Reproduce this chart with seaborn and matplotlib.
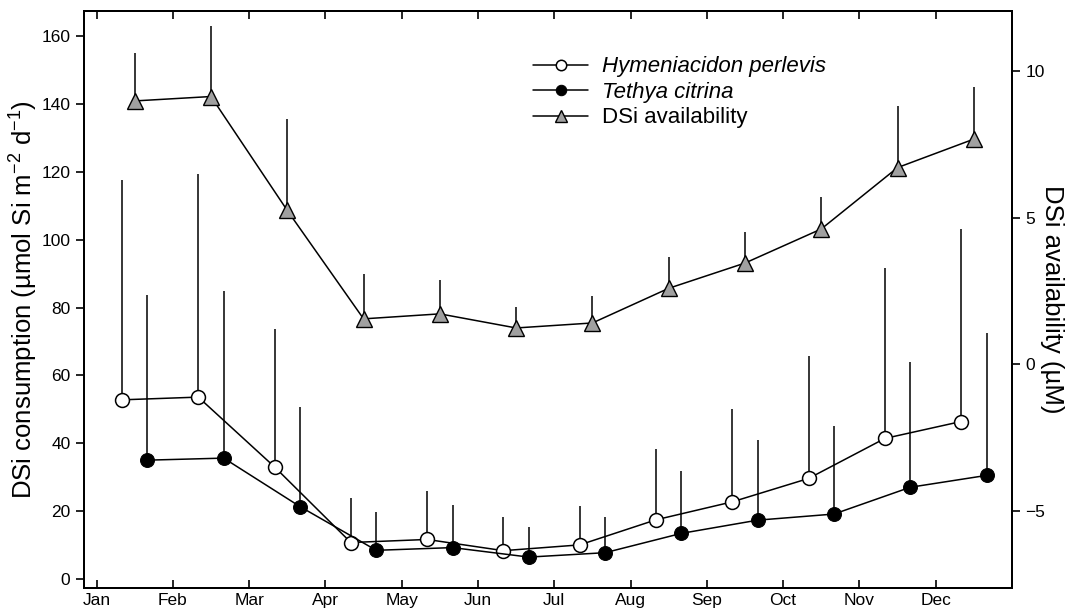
import numpy as np
import pandas as pd
import matplotlib
matplotlib.use("Agg")
import matplotlib.pyplot as plt
import seaborn as sns

# ---- data ----
months = ["Jan", "Feb", "Mar", "Apr", "May", "Jun",
          "Jul", "Aug", "Sep", "Oct", "Nov", "Dec"]

# sampling day within each month (approx.)
hp_day = 10
dsi_day = 15
tc_day = 20

# Hymeniacidon perlevis consumption (umol Si m-2 d-1) and upper SD
hp_mean = [52.8, 53.6, 33.0, 10.7, 11.6, 8.3, 10.0, 17.4, 22.7, 29.6, 41.4, 46.4]
hp_sd = [64.8, 65.8, 40.8, 13.0, 14.2, 10.0, 11.6, 21.0, 27.4, 36.0, 50.4, 56.8]

# Tethya citrina consumption and upper SD
tc_mean = [35.0, 35.6, 21.3, 8.4, 9.2, 6.4, 7.7, 13.4, 17.3, 19.1, 27.0, 30.5]
tc_sd = [48.6, 49.4, 29.5, 11.4, 12.6, 9.0, 10.5, 18.5, 23.7, 26.0, 37.1, 42.0]

# DSi availability (uM) and upper SD
dsi_mean = [8.97, 9.12, 5.24, 1.55, 1.72, 1.24, 1.41, 2.59, 3.45, 4.61, 6.70, 7.67]
dsi_sd = [1.62, 2.40, 3.11, 1.53, 1.15, 0.73, 0.93, 1.06, 1.05, 1.10, 2.10, 1.79]

# ---- tidy frames ----
m_idx = np.arange(len(months))
df_hp = pd.DataFrame({"x": m_idx + hp_day / 30, "y": hp_mean, "sd": hp_sd})
df_tc = pd.DataFrame({"x": m_idx + tc_day / 30, "y": tc_mean, "sd": tc_sd})
df_dsi = pd.DataFrame({"x": m_idx + dsi_day / 30, "y": dsi_mean, "sd": dsi_sd})

sns.set_style("ticks", {"text.color": "black", "axes.labelcolor": "black",
                        "xtick.color": "black", "ytick.color": "black",
                        "axes.edgecolor": "black"})
plt.rcParams["font.family"] = ["Liberation Sans", "DejaVu Sans"]
plt.rcParams["mathtext.fontset"] = "custom"
plt.rcParams["mathtext.rm"] = "Liberation Sans"
plt.rcParams["mathtext.it"] = "Liberation Sans:italic"
plt.rcParams["axes.linewidth"] = 1.4

fig = plt.figure(figsize=(10.72, 6.14), dpi=100)
ax = fig.add_axes([0.078, 0.043, 0.866, 0.939])
ax2 = ax.twinx()

lw = 1.1
ms = 10

# error bars (upper only)
ax.vlines(df_hp["x"], df_hp["y"], df_hp["y"] + df_hp["sd"], color="black", lw=lw, zorder=1)
ax.vlines(df_tc["x"], df_tc["y"], df_tc["y"] + df_tc["sd"], color="black", lw=lw, zorder=1)
ax2.vlines(df_dsi["x"], df_dsi["y"], df_dsi["y"] + df_dsi["sd"], color="black", lw=lw, zorder=1)

sns.lineplot(data=df_hp, x="x", y="y", ax=ax, color="black", lw=lw, marker="o",
             markersize=ms, markerfacecolor="white", markeredgecolor="black",
             markeredgewidth=1.1, label="Hymeniacidon perlevis", zorder=3)
sns.lineplot(data=df_tc, x="x", y="y", ax=ax, color="black", lw=lw, marker="o",
             markersize=ms, markerfacecolor="black", markeredgecolor="black",
             label="Tethya citrina", zorder=3)
sns.lineplot(data=df_dsi, x="x", y="y", ax=ax2, color="black", lw=lw, marker="^",
             markersize=ms + 1, markerfacecolor="#a0a0a0", markeredgecolor="black",
             markeredgewidth=1.0, label="DSi availability", zorder=3)

# axes limits and ticks
ax.set_xlim(-0.17, 12.0)
ax.set_ylim(-2.6, 167.5)
ax2.set_ylim(-7.6, 12.03)
ax.set_xticks(m_idx)
ax.set_xticklabels(months)
ax.set_yticks(np.arange(0, 161, 20))
ax2.set_yticks([-5, 0, 5, 10])

ax.tick_params(axis="x", direction="in", top=True, length=6, width=1.2,
               labelsize=12.5, pad=4)
ax.tick_params(axis="y", direction="out", length=6, width=1.2, labelsize=12.5)
ax2.tick_params(axis="y", direction="out", length=6, width=1.2, labelsize=12.5)

ax.set_xlabel("")
ax.set_ylabel(r"DSi consumption (µmol Si m$^{\mathregular{-2}}$ d$^{\mathregular{-1}}$)",
              fontsize=18.5, labelpad=1)
ax2.set_ylabel("DSi availability (µM)", fontsize=18.5, rotation=270, labelpad=14)

for a in (ax, ax2):
    for s in a.spines.values():
        s.set_linewidth(1.4)

# combined legend
if ax.get_legend() is not None:
    ax.get_legend().remove()
h1, l1 = ax.get_legend_handles_labels()
h2, l2 = ax2.get_legend_handles_labels()
leg = ax2.legend(h1 + h2, l1 + l2, loc="upper left", bbox_to_anchor=(0.497, 0.908),
                 bbox_transform=fig.transFigure, frameon=False, fontsize=16,
                 handlelength=2.5, handletextpad=0.6, labelspacing=0.2,
                 borderpad=0, borderaxespad=0, markerscale=0.75)
for t in leg.get_texts()[:2]:
    t.set_style("italic")

fig.savefig("out.png", dpi=100, facecolor="white")
